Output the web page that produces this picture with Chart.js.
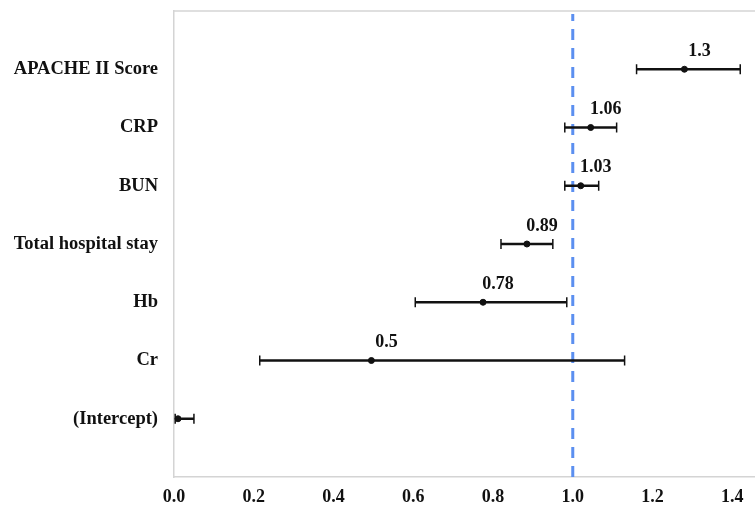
<!DOCTYPE html>
<html>
<head>
<meta charset="utf-8">
<script src="https://cdn.jsdelivr.net/npm/chart.js@4/dist/chart.umd.min.js"></script>
<style>
  html, body { margin: 0; padding: 0; background: #fff; }
  #wrap { width: 755px; height: 508px; position: relative; }
</style>
</head>
<body>
<div id="wrap"><canvas id="forest"></canvas></div>
<script>
// rows listed top to bottom
const categories = ['APACHE II Score', 'CRP', 'BUN', 'Total hospital stay', 'Hb', 'Cr', '(Intercept)'];
const estimates = [1.28, 1.045, 1.02, 0.885, 0.775, 0.495, 0.01];
const lowerCI = [1.16, 0.98, 0.98, 0.82, 0.605, 0.215, 0.003];
const upperCI = [1.42, 1.11, 1.065, 0.95, 0.985, 1.13, 0.05];
const valueLabels = ['1.3', '1.06', '1.03', '0.89', '0.78', '0.5', ''];
const xTickValues = [0, 0.2, 0.4, 0.6, 0.8, 1.0, 1.2, 1.4];
const refValue = 1.0;

const FONT = "'Liberation Serif', 'Times New Roman', serif";
const n = categories.length;
const rowY = i => n - i;

// one line per confidence interval, with vertical caps at both ends
const ciSets = categories.map(function(c, i) {
  return {
    type: 'line',
    data: [{ x: lowerCI[i], y: rowY(i) }, { x: upperCI[i], y: rowY(i) }],
    borderColor: '#111',
    borderWidth: 2.5,
    pointStyle: 'line',
    rotation: 90,
    pointRadius: 5,
    pointBorderWidth: 1.5,
    pointBorderColor: '#111',
    order: 2
  };
});

const pointSet = {
  type: 'scatter',
  data: estimates.map((v, i) => ({ x: v, y: rowY(i) })),
  backgroundColor: '#111',
  borderColor: '#111',
  pointRadius: 3,
  order: 1
};

const refSet = {
  type: 'line',
  data: [{ x: refValue, y: 0 }, { x: refValue, y: n + 0.95 }],
  borderColor: '#5b8ff0',
  borderWidth: 3,
  borderDash: [11, 8],
  pointRadius: 0,
  order: 3
};

const labelPlugin = {
  id: 'valueLabels',
  afterDatasetsDraw(chart) {
    const ctx = chart.ctx;
    const meta = chart.getDatasetMeta(chart.data.datasets.indexOf(pointSet));
    ctx.save();
    ctx.font = 'bold 18px ' + FONT;
    ctx.fillStyle = '#111';
    ctx.textAlign = 'center';
    ctx.textBaseline = 'bottom';
    meta.data.forEach(function(pt, i) {
      if (valueLabels[i]) ctx.fillText(valueLabels[i], pt.x + 15, pt.y - 9);
    });
    ctx.restore();
  },
  beforeDatasetsDraw(chart) {
    const a = chart.chartArea;
    const ctx = chart.ctx;
    ctx.save();
    ctx.strokeStyle = '#d4d4d4';
    ctx.lineWidth = 1.5;
    ctx.beginPath();
    ctx.moveTo(a.left, a.top);
    ctx.lineTo(a.right, a.top);
    ctx.stroke();
    ctx.restore();
  }
};

new Chart(document.getElementById('forest'), {
  data: { datasets: [pointSet].concat(ciSets, [refSet]) },
  options: {
    responsive: true,
    maintainAspectRatio: false,
    animation: false,
    layout: { autoPadding: false, padding: { top: 11, right: 0, left: 0, bottom: 0 } },
    plugins: { legend: { display: false }, tooltip: { enabled: false } },
    scales: {
      x: {
        type: 'linear',
        min: 0,
        max: 1.457,
        grid: { display: false },
        border: { display: true, color: '#d4d4d4', width: 1.5 },
        afterBuildTicks: s => { s.ticks = xTickValues.map(v => ({ value: v })); },
        afterFit: s => { s.height = 31; s.paddingLeft = 0; s.paddingRight = 0; },
        ticks: {
          color: '#111',
          padding: 2,
          maxRotation: 0,
          font: { family: FONT, size: 18, weight: 'bold' },
          callback: v => v.toFixed(1)
        }
      },
      y: {
        type: 'linear',
        min: 0,
        max: n + 1,
        grid: { display: false },
        border: { display: true, color: '#d4d4d4', width: 1.5 },
        afterBuildTicks: s => { s.ticks = categories.map((c, i) => ({ value: rowY(i) })); },
        afterFit: s => { s.width = 174; s.paddingTop = 0; s.paddingBottom = 0; },
        ticks: {
          color: '#111',
          padding: 8,
          font: { family: FONT, size: 18.5, weight: 'bold' },
          callback: v => categories[n - v] || ''
        }
      }
    }
  },
  plugins: [labelPlugin]
});
</script>
</body>
</html>
